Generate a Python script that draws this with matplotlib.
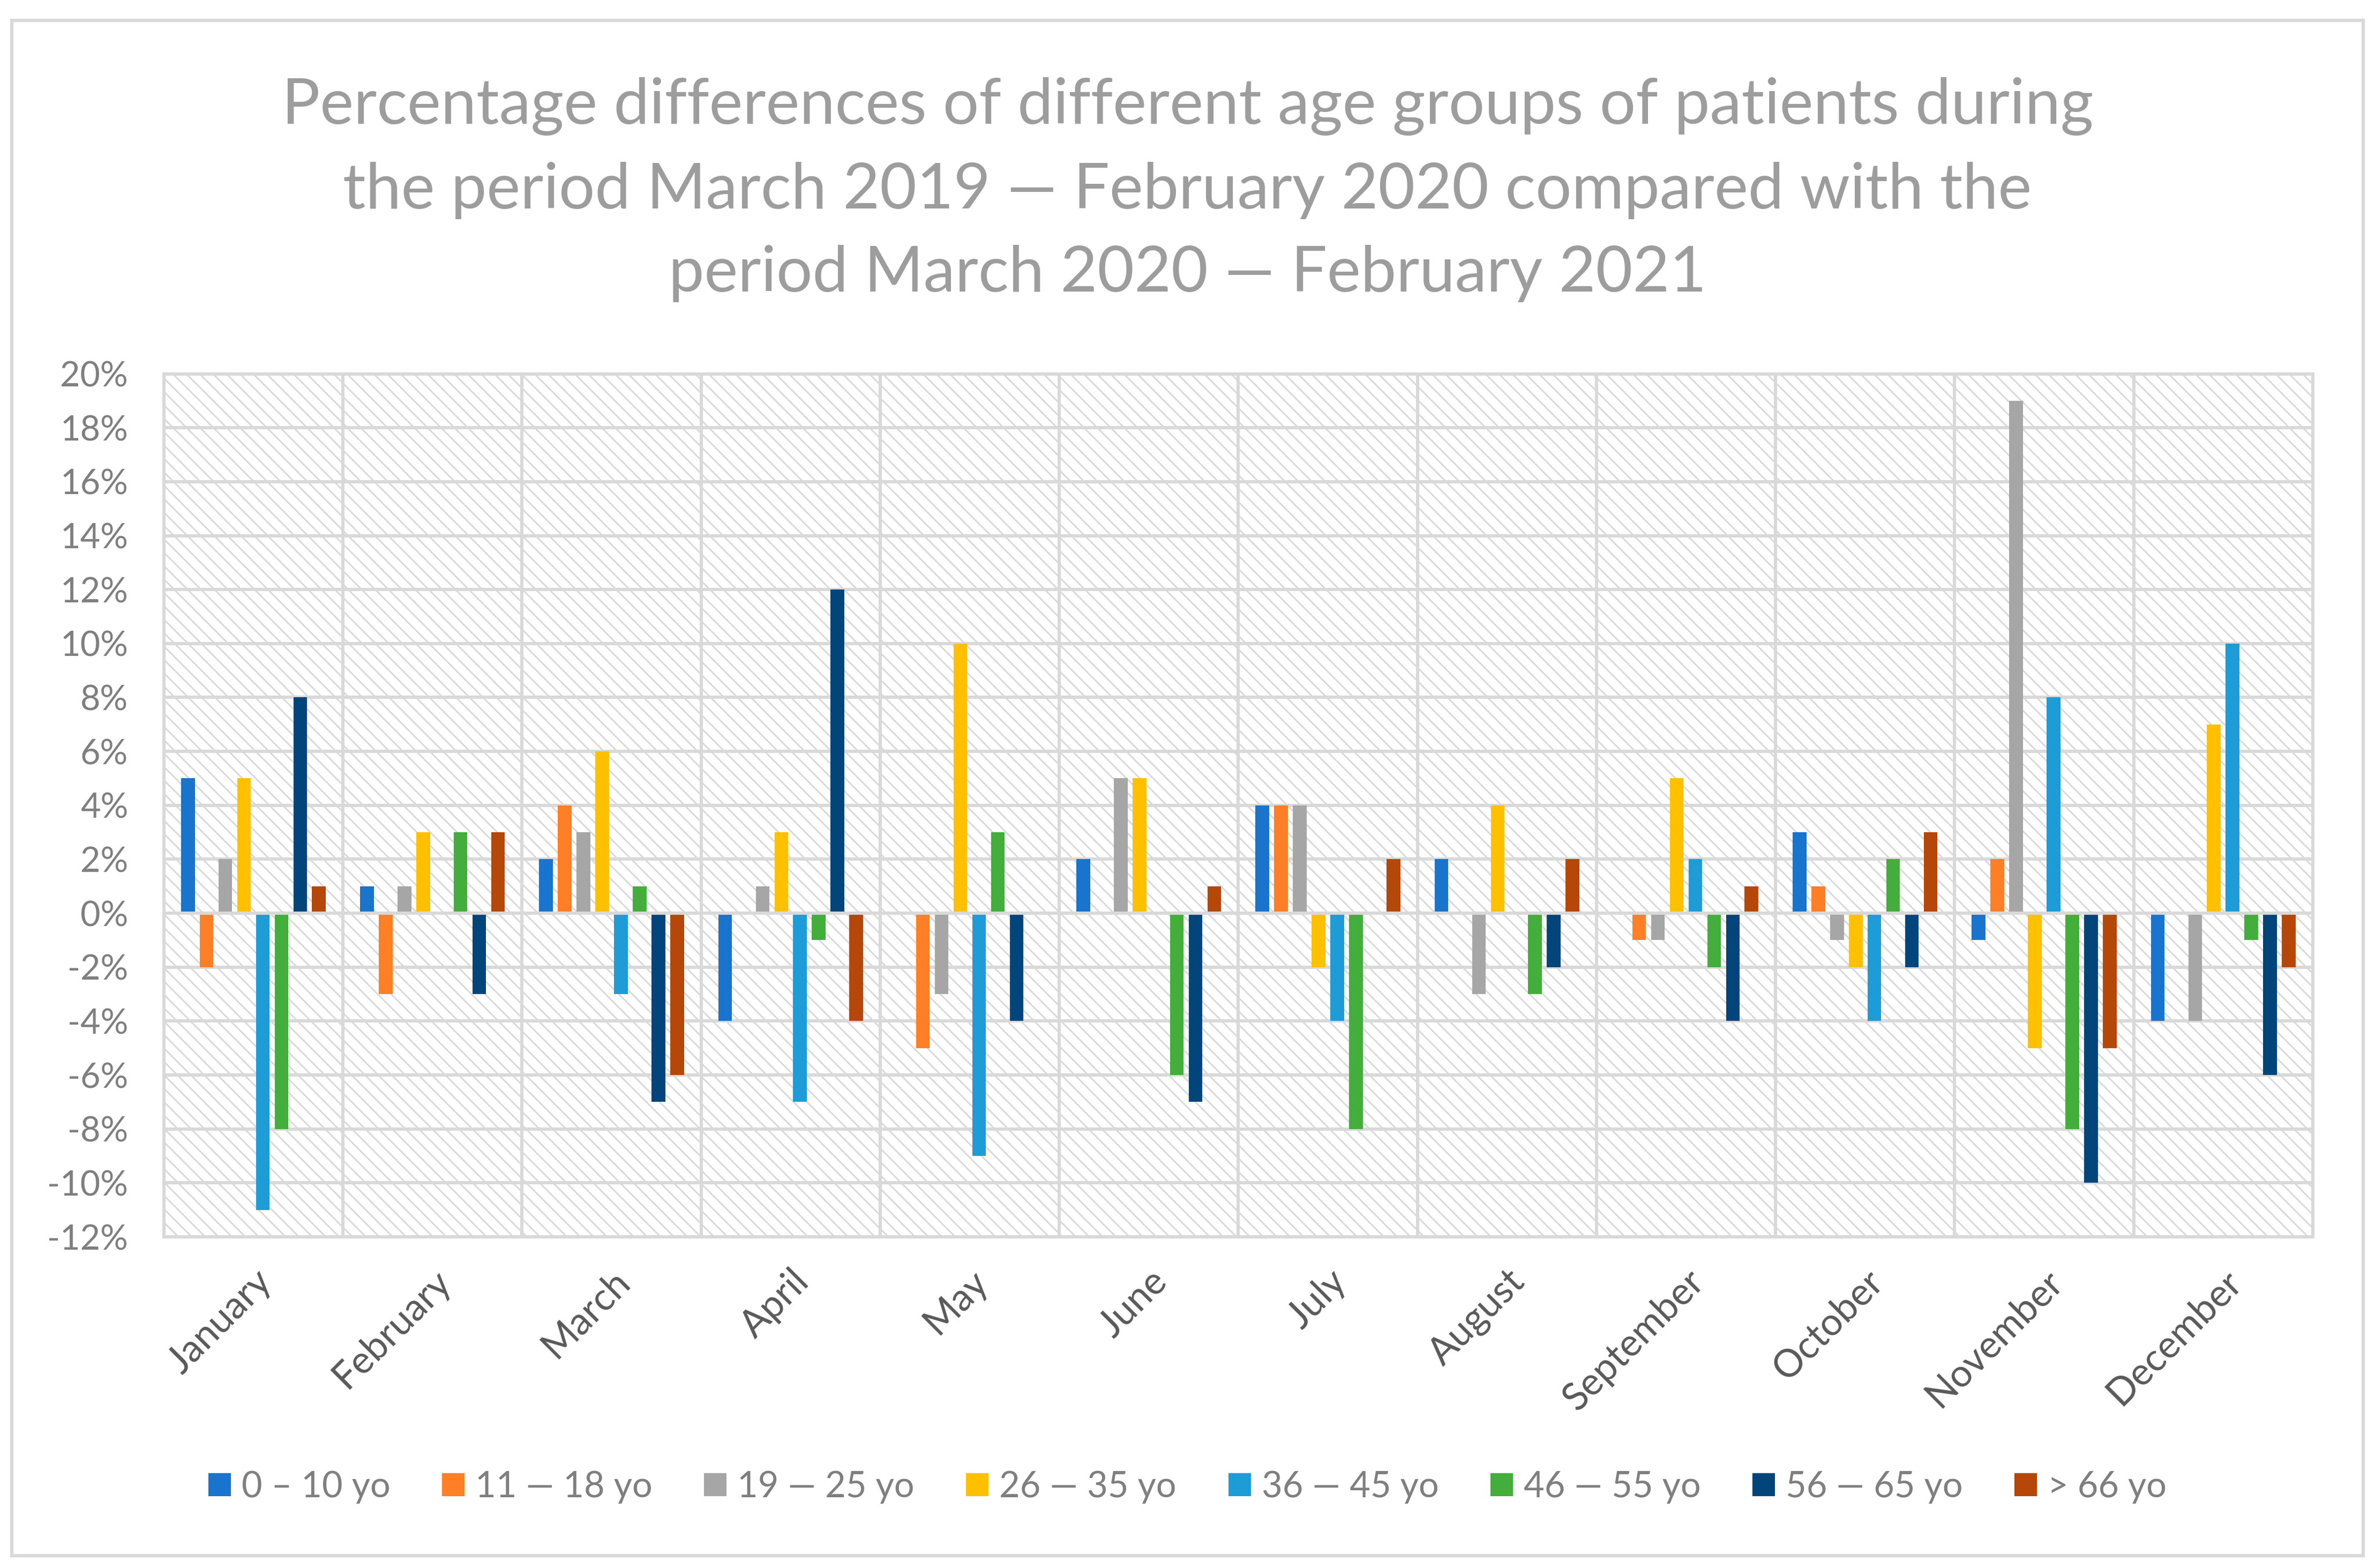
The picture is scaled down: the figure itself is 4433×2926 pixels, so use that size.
import matplotlib.pyplot as plt
import numpy as np
from matplotlib.patches import Rectangle

months = ["January", "February", "March", "April", "May", "June",
          "July", "August", "September", "October", "November", "December"]

age_groups = ["0 – 10 yo", "11 — 18 yo", "19 — 25 yo", "26 — 35 yo",
              "36 — 45 yo", "46 — 55 yo", "56 — 65 yo", "> 66 yo"]

# percent differences per age group, one value per month
age_0_10 = [5, 1, 2, -4, 0, 2, 4, 2, 0, 3, -1, -4]
age_11_18 = [-2, -3, 4, 0, -5, 0, 4, 0, -1, 1, 2, 0]
age_19_25 = [2, 1, 3, 1, -3, 5, 4, -3, -1, -1, 19, -4]
age_26_35 = [5, 3, 6, 3, 10, 5, -2, 4, 5, -2, -5, 7]
age_36_45 = [-11, 0, -3, -7, -9, 0, -4, 0, 2, -4, 8, 10]
age_46_55 = [-8, 3, 1, -1, 3, -6, -8, -3, -2, 2, -8, -1]
age_56_65 = [8, -3, -7, 12, -4, -7, 0, -2, -4, -2, -10, -6]
age_66_up = [1, 3, -6, -4, 0, 1, 2, 2, 1, 3, -5, -2]

series = [age_0_10, age_11_18, age_19_25, age_26_35,
          age_36_45, age_46_55, age_56_65, age_66_up]
colors = ["#1874cc", "#ff7f27", "#a6a6a6", "#ffc000",
          "#1d9cd8", "#43ae3b", "#01457a", "#b54708"]

title = ("Percentage differences of different age groups of patients during\n"
         "the period March 2019 — February 2020 compared with the\n"
         "period March 2020 — February 2021")

plt.rcParams["font.family"] = ["Lato", "DejaVu Sans"]
plt.rcParams["hatch.color"] = "#d9d9d9"
plt.rcParams["hatch.linewidth"] = 0.7

grid_color = "#d9d9d9"

fig = plt.figure(figsize=(4433 / 300, 2926 / 300), dpi=300)
ax = fig.add_axes([0.0690, 0.2112, 0.9048, 0.5504])

# hatched plot-area background
ax.add_patch(Rectangle((0, 0), 1, 1, transform=ax.transAxes, facecolor="white",
                       edgecolor=grid_color, linewidth=0, hatch="\\\\\\\\", zorder=0))

x = np.arange(len(months))
slot = 0.1045
width = 0.0764
for j, (vals, col, lab) in enumerate(zip(series, colors, age_groups)):
    ax.bar(x + (j - 3.5) * slot, vals, width=width, color=col, label=lab, zorder=3)

ax.set_xlim(-0.5, len(months) - 0.5)
ax.set_ylim(-12, 20)
ax.set_yticks(np.arange(-12, 21, 2))
ax.set_yticklabels([f"{v}%" for v in range(-12, 21, 2)])
ax.set_xticks(x)
ax.set_xticklabels(months, rotation=45, ha="right", rotation_mode="anchor")
ax.tick_params(length=0)
ax.tick_params(axis="x", pad=12, labelsize=17, labelcolor="#595959")
ax.tick_params(axis="y", pad=16, labelsize=15.5, labelcolor="#7f7f7f")

# grid: horizontal every 2 %, vertical between months
for v in range(-12, 21, 2):
    ax.axhline(v, color=grid_color, lw=1.45, zorder=1)
for b in np.arange(0.5, len(months) - 0.5, 1):
    ax.axvline(b, color=grid_color, lw=1.45, zorder=1)
ax.axhline(0, color=grid_color, lw=1.45, zorder=4)
for s in ax.spines.values():
    s.set_color(grid_color)
    s.set_linewidth(1.45)
    s.set_zorder(5)

fig.text(0.5, 0.879, title, ha="center", va="center", fontsize=28.5,
         color="#9d9d9d", linespacing=1.56)

fig.legend(loc="center", bbox_to_anchor=(0.5, 0.0516), ncol=8, frameon=False,
           fontsize=16, labelcolor="#7f7f7f", handlelength=0.63, handleheight=0.63,
           handletextpad=0.3, columnspacing=1.45)

fig.add_artist(Rectangle((0.005, 0.008), 0.990, 0.979, transform=fig.transFigure,
                         fill=False, edgecolor=grid_color, linewidth=1.5))

fig.savefig("out.png", dpi=300)
plt.close(fig)
